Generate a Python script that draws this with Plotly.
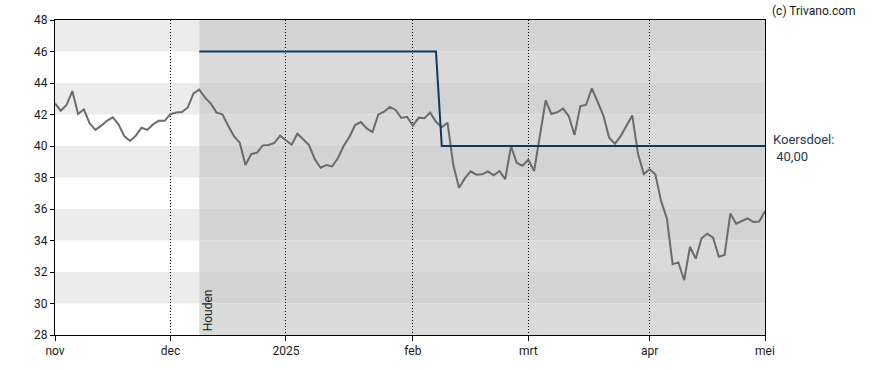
import pandas as pd
import plotly.graph_objects as go

# ---- data ----
holidays = ["2024-12-25", "2024-12-26", "2025-01-01", "2025-04-18", "2025-04-21"]
all_days = pd.bdate_range("2024-11-04", "2025-05-01")
dates = [d for d in all_days if d.strftime("%Y-%m-%d") not in holidays]

prices = [
    42.71, 42.24, 42.60, 43.49, 42.03, 42.33, 41.44, 41.02, 41.29, 41.60,
    41.82, 41.38, 40.63, 40.32, 40.66, 41.16, 41.02, 41.38, 41.60, 41.60,
    42.03, 42.12, 42.16, 42.45, 43.34, 43.58, 43.07, 42.69, 42.12, 42.01,
    41.29, 40.63, 40.21, 38.79, 39.49, 39.58, 40.04, 40.06, 40.19, 40.66,
    40.36, 40.08, 40.78, 40.44, 40.06, 39.17, 38.62, 38.79, 38.70, 39.22,
    40.00, 40.57, 41.33, 41.52, 41.12, 40.89, 41.99, 42.18, 42.48, 42.29,
    41.78, 41.85, 41.29, 41.80, 41.76, 42.12, 41.54, 41.19, 41.48, 38.79,
    37.35, 37.94, 38.39, 38.18, 38.20, 38.39, 38.14, 38.41, 37.90, 39.98,
    38.92, 38.75, 39.13, 38.41, 40.70, 42.90, 42.03, 42.14, 42.37, 41.90,
    40.70, 42.52, 42.62, 43.66, 42.81, 41.93, 40.53, 40.15, 40.63, 41.33,
    41.94, 39.50, 38.22, 38.52, 38.20, 36.50, 35.40, 32.50, 32.61, 31.48,
    33.60, 32.85, 34.14, 34.43, 34.18, 32.97, 33.08, 35.72, 35.07, 35.24,
    35.40, 35.17, 35.21, 35.87,
]

rating_date = "2024-12-09"
rating_label = "Houden"
target_change_date = "2025-02-10"
target_old = 46.0
target_new = 40.0

tick_dates = ["2024-11-04", "2024-12-02", "2025-01-02", "2025-02-03",
              "2025-03-03", "2025-04-01", "2025-05-01"]
tick_labels = ["nov", "dec", "2025", "feb", "mrt", "apr", "mei"]
y_ticks = list(range(28, 49, 2))

# target series built from the values above
rd = pd.Timestamp(rating_date)
tc = pd.Timestamp(target_change_date)
target = [None if d < rd else (target_old if d < tc else target_new) for d in dates]

x_start, x_end = dates[0], dates[-1]

fig = go.Figure()

# background bands
shapes = []
for lo in range(28, 48, 2):
    dark = ((lo - 30) % 4 == 0)
    shapes.append(dict(type="rect", xref="x", yref="y", x0=x_start, x1=rd, y0=lo, y1=lo + 2,
                       fillcolor="#ececec" if dark else "#ffffff", line_width=0, layer="below"))
    shapes.append(dict(type="rect", xref="x", yref="y", x0=rd, x1=x_end, y0=lo, y1=lo + 2,
                       fillcolor="#d3d3d3" if dark else "#dadada", line_width=0, layer="below"))

fig.add_trace(go.Scatter(x=dates, y=prices, mode="lines",
                         line=dict(color="#6b6b6b", width=2), hoverinfo="x+y", showlegend=False))
fig.add_trace(go.Scatter(x=dates, y=target, mode="lines",
                         line=dict(color="#0f3a5a", width=2), hoverinfo="x+y", showlegend=False))

fig.update_layout(
    width=888, height=370,
    margin=dict(l=55, r=123, t=20, b=35),
    paper_bgcolor="white", plot_bgcolor="white",
    font=dict(family="Roboto", size=12, color="#1a1a1a"),
    shapes=shapes,
    annotations=[
        dict(text=rating_label, x=rd, y=28, xref="x", yref="y", textangle=-90,
             xanchor="left", yanchor="bottom", showarrow=False, xshift=0, yshift=2,
             font=dict(size=12, color="#1a1a1a")),
        dict(text="Koersdoel:<br> 40,00", x=1, y=target_new, xref="paper", yref="y",
             xanchor="left", yanchor="middle", align="left", showarrow=False, xshift=6, yshift=-2,
             font=dict(size=13, color="#1b3a58")),
        dict(text="(c) Trivano.com", x=1, y=1, xref="paper", yref="paper",
             xanchor="left", yanchor="bottom", showarrow=False, xshift=5, yshift=0,
             font=dict(size=12, color="#1a1a1a")),
    ],
)

fig.update_xaxes(
    type="date",
    range=[x_start, x_end],
    rangebreaks=[dict(bounds=["sat", "mon"]), dict(values=holidays)],
    tickvals=tick_dates, ticktext=tick_labels,
    showline=True, linecolor="black", linewidth=1, mirror=True,
    ticks="outside", ticklen=5, tickcolor="black",
    showgrid=True, gridcolor="black", griddash="1px,2px", gridwidth=1,
    zeroline=False, layer="above traces",
)
fig.update_yaxes(
    range=[28, 48], tickvals=y_ticks,
    showline=True, linecolor="black", linewidth=1, mirror=True,
    ticks="outside", ticklen=4, tickcolor="black",
    showgrid=False, zeroline=False,
)

fig.write_html("out.html",
               config={"displayModeBar": False},
               post_script="document.body.style.margin='0';document.body.style.padding='0';")
